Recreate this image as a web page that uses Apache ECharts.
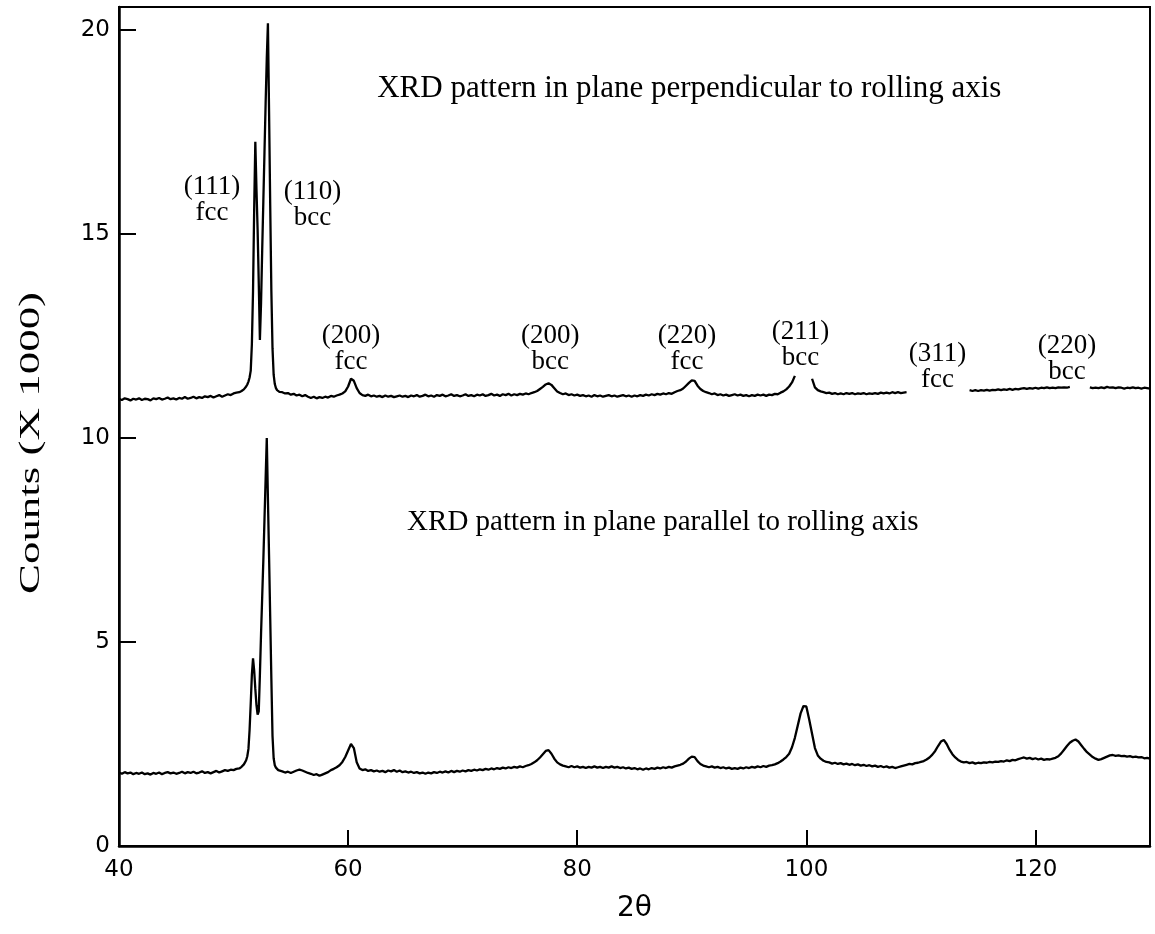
<!DOCTYPE html>
<html>
<head>
<meta charset="utf-8">
<script src="https://cdn.jsdelivr.net/npm/echarts@6/dist/echarts.min.js"></script>
<style>
html,body{margin:0;padding:0;background:#fff;}
#chart{width:1155px;height:934px;}
</style>
</head>
<body>
<div id="chart"></div>
<script>
// 2-theta positions (degrees)
var twoTheta = [
  40.00,40.25,40.50,40.75,41.00,41.25,41.50,41.75,42.00,42.25,
  42.50,42.75,43.00,43.25,43.50,43.75,44.00,44.25,44.50,44.75,
  45.00,45.25,45.50,45.75,46.00,46.25,46.50,46.75,47.00,47.25,
  47.50,47.75,48.00,48.25,48.50,48.75,49.00,49.25,49.50,49.75,
  50.00,50.25,
  50.5,50.6,50.7,50.8,50.9,51.0,51.1,51.2,51.3,51.4,
  51.5,51.6,51.7,51.8,51.9,52.0,52.1,52.2,52.3,52.4,
  52.5,52.6,52.7,52.8,52.9,53.0,53.1,53.2,53.3,53.4,
  53.5,53.6,53.7,53.8,53.9,54.0,
  54.25,54.50,54.75,55.00,55.25,55.50,55.75,56.00,56.25,56.50,
  56.75,57.00,57.25,57.50,57.75,58.00,58.25,58.50,58.75,59.00,
  59.25,59.50,59.75,60.00,60.25,60.50,60.75,61.00,61.25,61.50,
  61.75,62.00,62.25,62.50,62.75,63.00,63.25,63.50,63.75,64.00,
  64.25,64.50,64.75,65.00,65.25,65.50,65.75,66.00,66.25,66.50,
  66.75,67.00,67.25,67.50,67.75,68.00,68.25,68.50,68.75,69.00,
  69.25,69.50,69.75,70.00,70.25,70.50,70.75,71.00,71.25,71.50,
  71.75,72.00,72.25,72.50,72.75,73.00,73.25,73.50,73.75,74.00,
  74.25,74.50,74.75,75.00,75.25,75.50,75.75,76.00,76.25,76.50,
  76.75,77.00,77.25,77.50,77.75,78.00,78.25,78.50,78.75,79.00,
  79.25,79.50,79.75,80.00,80.25,80.50,80.75,81.00,81.25,81.50,
  81.75,82.00,82.25,82.50,82.75,83.00,83.25,83.50,83.75,84.00,
  84.25,84.50,84.75,85.00,85.25,85.50,85.75,86.00,86.25,86.50,
  86.75,87.00,87.25,87.50,87.75,88.00,88.25,88.50,88.75,89.00,
  89.25,89.50,89.75,90.00,90.25,90.50,90.75,91.00,91.25,91.50,
  91.75,92.00,92.25,92.50,92.75,93.00,93.25,93.50,93.75,94.00,
  94.25,94.50,94.75,95.00,95.25,95.50,95.75,96.00,96.25,96.50,
  96.75,97.00,97.25,97.50,97.75,98.00,98.25,98.50,98.75,99.00,
  99.25,99.50,99.75,100.00,100.25,100.50,100.75,101.00,101.25,101.50,
  101.75,102.00,102.25,102.50,102.75,103.00,103.25,103.50,103.75,104.00,
  104.25,104.50,104.75,105.00,105.25,105.50,105.75,106.00,106.25,106.50,
  106.75,107.00,107.25,107.50,107.75,108.00,108.25,108.50,108.75,109.00,
  109.25,109.50,109.75,110.00,110.25,110.50,110.75,111.00,111.25,111.50,
  111.75,112.00,112.25,112.50,112.75,113.00,113.25,113.50,113.75,114.00,
  114.25,114.50,114.75,115.00,115.25,115.50,115.75,116.00,116.25,116.50,
  116.75,117.00,117.25,117.50,117.75,118.00,118.25,118.50,118.75,119.00,
  119.25,119.50,119.75,120.00,120.25,120.50,120.75,121.00,121.25,121.50,
  121.75,122.00,122.25,122.50,122.75,123.00,123.25,123.50,123.75,124.00,
  124.25,124.50,124.75,125.00,125.25,125.50,125.75,126.00,126.25,126.50,
  126.75,127.00,127.25,127.50,127.75,128.00,128.25,128.50,128.75,129.00,
  129.25,129.50,129.75,130.00
];

// Counts (x1000), plane perpendicular to rolling axis (null = not drawn in the original)
var perpendicular = [
  10.96,10.93,10.97,10.95,10.92,10.96,10.94,10.97,10.93,10.96,
  10.95,10.92,10.97,10.95,10.98,10.94,10.96,10.99,10.95,10.97,
  10.94,10.98,10.96,11.00,10.96,10.98,11.01,10.97,11.00,10.98,
  11.02,11.00,11.03,10.99,11.02,11.05,11.01,11.04,11.07,11.05,
  11.09,11.11,
  11.12,11.14,11.15,11.17,11.19,11.22,11.26,11.31,11.38,11.48,
  11.65,12.30,13.60,15.60,17.26,16.10,15.10,13.80,12.40,13.30,
  14.60,15.80,17.00,18.20,19.30,20.16,18.00,15.70,13.60,12.20,
  11.55,11.32,11.22,11.17,11.15,11.13,
  11.12,11.09,11.10,11.06,11.08,11.04,11.06,11.02,11.05,11.01,
  10.98,11.01,10.97,11.00,10.98,11.01,10.99,11.03,11.01,11.04,
  11.06,11.09,11.14,11.26,11.45,11.40,11.22,11.10,11.05,11.03,
  11.06,11.02,11.04,11.01,11.03,11.00,11.04,11.01,11.03,11.00,
  11.02,11.04,11.01,11.03,11.00,11.04,11.02,11.05,11.01,11.03,
  11.06,11.02,11.04,11.01,11.05,11.03,11.06,11.02,11.04,11.07,
  11.03,11.05,11.02,11.04,11.07,11.03,11.05,11.02,11.06,11.04,
  11.07,11.03,11.05,11.08,11.04,11.06,11.03,11.07,11.05,11.08,
  11.04,11.07,11.05,11.08,11.06,11.09,11.07,11.10,11.12,11.15,
  11.20,11.25,11.31,11.34,11.30,11.22,11.14,11.10,11.07,11.09,
  11.05,11.07,11.04,11.06,11.03,11.05,11.02,11.04,11.01,11.05,
  11.02,11.04,11.01,11.03,11.05,11.02,11.04,11.01,11.03,11.05,
  11.02,11.04,11.01,11.04,11.02,11.05,11.03,11.06,11.04,11.07,
  11.05,11.08,11.06,11.09,11.07,11.10,11.08,11.12,11.15,11.17,
  11.21,11.28,11.35,11.41,11.40,11.28,11.20,11.15,11.12,11.10,
  11.07,11.09,11.05,11.07,11.04,11.06,11.03,11.05,11.07,11.04,
  11.06,11.03,11.05,11.02,11.05,11.03,11.06,11.04,11.06,11.03,
  11.06,11.05,11.08,11.07,11.11,11.14,11.19,11.26,11.36,11.52,
  null,null,null,null,null,11.45,11.24,11.17,11.14,11.12,
  11.10,11.11,11.08,11.10,11.07,11.09,11.07,11.10,11.08,11.10,
  11.07,11.09,11.08,11.10,11.07,11.09,11.08,11.10,11.08,11.11,
  11.09,11.11,11.09,11.12,11.10,11.12,11.10,11.11,11.12,null,
  null,null,null,null,null,null,null,null,null,null,
  null,null,null,null,null,null,null,null,null,null,
  11.17,11.15,11.17,11.15,11.17,11.16,11.18,11.16,11.18,11.17,
  11.19,11.17,11.19,11.18,11.20,11.18,11.20,11.19,11.21,11.22,
  11.20,11.22,11.21,11.23,11.21,11.23,11.22,11.24,11.22,11.23,
  11.22,11.24,11.23,11.24,11.23,11.25,null,null,null,null,
  null,null,11.24,11.22,11.23,11.22,11.24,11.22,11.25,11.23,
  11.24,11.22,11.24,11.23,11.21,11.23,11.22,11.24,11.22,11.23,
  11.21,11.23,11.22,11.21
];

// Counts (x1000), plane parallel to rolling axis
var parallel = [
  1.80,1.77,1.81,1.78,1.80,1.76,1.79,1.77,1.80,1.76,
  1.78,1.75,1.79,1.77,1.80,1.76,1.79,1.81,1.78,1.80,
  1.77,1.79,1.82,1.78,1.81,1.79,1.82,1.78,1.80,1.83,
  1.79,1.81,1.78,1.81,1.84,1.80,1.83,1.86,1.84,1.87,
  1.86,1.89,
  1.90,1.92,1.94,1.97,2.00,2.05,2.10,2.20,2.38,2.85,
  3.50,4.20,4.60,4.30,3.85,3.45,3.22,3.30,4.20,5.20,
  6.10,7.00,8.00,9.00,10.00,8.50,7.10,5.60,4.10,2.70,
  2.15,1.98,1.92,1.88,1.86,1.85,
  1.83,1.80,1.82,1.79,1.82,1.85,1.87,1.85,1.82,1.79,
  1.77,1.74,1.76,1.72,1.75,1.78,1.81,1.86,1.89,1.93,
  1.98,2.06,2.18,2.34,2.50,2.40,2.05,1.90,1.86,1.88,
  1.84,1.86,1.83,1.85,1.82,1.84,1.81,1.85,1.83,1.86,
  1.82,1.85,1.81,1.83,1.80,1.82,1.79,1.81,1.78,1.80,
  1.77,1.80,1.78,1.81,1.79,1.82,1.80,1.83,1.80,1.84,
  1.81,1.84,1.82,1.85,1.83,1.86,1.84,1.87,1.85,1.88,
  1.86,1.89,1.87,1.90,1.88,1.91,1.89,1.92,1.90,1.93,
  1.91,1.94,1.92,1.95,1.93,1.96,1.98,2.01,2.05,2.10,
  2.17,2.25,2.33,2.35,2.26,2.14,2.05,2.00,1.97,1.95,
  1.93,1.96,1.93,1.95,1.92,1.94,1.91,1.94,1.92,1.95,
  1.92,1.94,1.91,1.94,1.92,1.95,1.92,1.94,1.91,1.93,
  1.90,1.92,1.89,1.91,1.88,1.90,1.87,1.90,1.88,1.91,
  1.89,1.92,1.90,1.93,1.91,1.94,1.92,1.95,1.97,1.99,
  2.02,2.07,2.14,2.19,2.18,2.08,2.01,1.97,1.95,1.93,
  1.95,1.92,1.94,1.91,1.93,1.90,1.92,1.89,1.91,1.89,
  1.92,1.90,1.93,1.91,1.94,1.92,1.95,1.93,1.96,1.94,
  1.97,1.98,2.00,2.03,2.07,2.12,2.18,2.26,2.42,2.65,
  2.95,3.25,3.43,3.42,3.10,2.75,2.40,2.22,2.14,2.09,
  2.06,2.05,2.02,2.04,2.01,2.03,2.00,2.02,1.99,2.01,
  1.98,2.00,1.97,1.99,1.96,1.98,1.95,1.97,1.94,1.96,
  1.93,1.95,1.92,1.94,1.91,1.93,1.95,1.97,1.99,2.01,
  2.00,2.03,2.04,2.06,2.08,2.12,2.17,2.24,2.33,2.45,
  2.56,2.60,2.50,2.36,2.25,2.17,2.11,2.07,2.05,2.06,
  2.03,2.05,2.02,2.04,2.03,2.05,2.04,2.06,2.05,2.07,
  2.06,2.08,2.07,2.10,2.08,2.11,2.10,2.13,2.15,2.17,
  2.14,2.16,2.13,2.15,2.12,2.14,2.11,2.13,2.12,2.14,
  2.16,2.20,2.27,2.36,2.45,2.53,2.58,2.61,2.56,2.47,
  2.38,2.30,2.24,2.18,2.14,2.11,2.13,2.16,2.19,2.22,
  2.23,2.21,2.22,2.20,2.21,2.19,2.20,2.18,2.19,2.17,
  2.18,2.15,2.16,2.14
];

// Axis ticks
var xTicks = [40, 60, 80, 100, 120];
var yTicks = [0, 5, 10, 15, 20];

// Text annotations: text and anchor in data coordinates (2θ, counts)
var peakLabels = [
  { text: '(111)\nfcc', at: [48.12, 15.83] },
  { text: '(110)\nbcc', at: [56.9, 15.71] },
  { text: '(200)\nfcc', at: [60.26, 12.18] },
  { text: '(200)\nbcc', at: [77.64, 12.18] },
  { text: '(220)\nfcc', at: [89.58, 12.18] },
  { text: '(211)\nbcc', at: [99.48, 12.28] },
  { text: '(311)\nfcc', at: [111.44, 11.74] },
  { text: '(220)\nbcc', at: [122.75, 11.94] }
];
var titleLabels = [
  { text: 'XRD pattern in plane perpendicular to rolling axis', at: [89.78, 18.55], size: 31 },
  { text: 'XRD pattern in plane parallel to rolling axis', at: [87.47, 7.94], size: 29 }
];

var perpData = twoTheta.map(function (x, i) { return [x, perpendicular[i]]; });
var paraData = twoTheta.map(function (x, i) { return [x, parallel[i]]; });

var serif = '"Liberation Serif", "Times New Roman", serif';
var sans = '"DejaVu Sans", sans-serif';

function labelItems(list, size) {
  return list.map(function (d) {
    var s = d.size || size;
    return {
      value: d.at,
      label: {
        show: true, position: 'inside', formatter: d.text,
        fontFamily: serif, fontSize: s, lineHeight: s - 1, color: '#000', align: 'center'
      }
    };
  });
}

var chart = echarts.init(document.getElementById('chart'), null, { renderer: 'canvas' });
chart.setOption({
  animation: false,
  backgroundColor: '#fff',
  grid: { left: 119, right: 5, top: 7, bottom: 88, show: true, borderColor: '#000', borderWidth: 2, backgroundColor: 'transparent' },
  xAxis: {
    type: 'value', min: 40, max: 130, interval: 20,
    name: '2θ', nameLocation: 'middle', nameGap: 49,
    nameTextStyle: { fontFamily: sans, fontSize: 28, color: '#000' },
    axisLine: { show: true, onZero: false, lineStyle: { color: '#000', width: 2.5 } },
    axisTick: { show: true, inside: true, length: 16, lineStyle: { color: '#000', width: 2 },
      customValues: xTicks },
    axisLabel: { color: '#000', fontFamily: sans, fontSize: 23, margin: 13,
      customValues: xTicks, formatter: function (v) { return String(v); } },
    splitLine: { show: false }
  },
  yAxis: {
    type: 'value', min: 0, max: 20.56, interval: 5,
    name: '',
    axisLine: { show: true, lineStyle: { color: '#000', width: 2.5 } },
    axisTick: { show: true, inside: true, length: 17, lineStyle: { color: '#000', width: 2 },
      customValues: yTicks },
    axisLabel: { color: '#000', fontFamily: sans, fontSize: 23, margin: 9,
      customValues: yTicks, formatter: function (v) { return String(v); } },
    splitLine: { show: false }
  },
  graphic: [{
    type: 'text', x: 31, y: 443, rotation: Math.PI / 2, scaleX: 1.55, scaleY: 1,
    style: {
      text: 'Counts (X 1000)', font: '29px ' + serif, fill: '#000',
      align: 'center', verticalAlign: 'middle'
    }
  }],
  series: [
    {
      name: 'perpendicular', type: 'line', data: perpData, showSymbol: false,
      connectNulls: false, lineStyle: { color: '#000', width: 2.3 }, z: 3
    },
    {
      name: 'parallel', type: 'line', data: paraData, showSymbol: false,
      lineStyle: { color: '#000', width: 2.3 }, z: 3
    },
    {
      name: 'peaks', type: 'scatter', symbolSize: 0, data: labelItems(peakLabels, 27),
      itemStyle: { opacity: 1 }, silent: true, z: 5
    },
    {
      name: 'titles', type: 'scatter', symbolSize: 0, data: labelItems(titleLabels, 30),
      itemStyle: { opacity: 1 }, silent: true, z: 5
    }
  ]
});
</script>
</body>
</html>
